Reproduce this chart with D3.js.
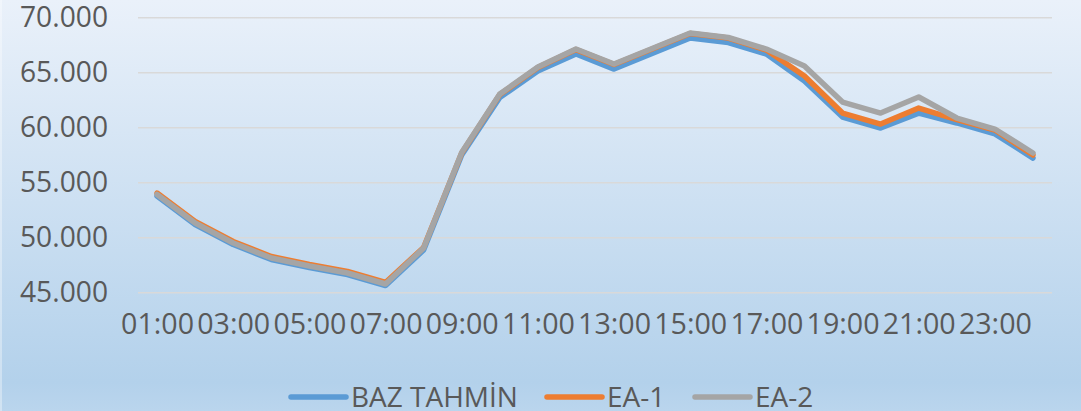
<!DOCTYPE html>
<html>
<head>
<meta charset="utf-8">
<script src="https://cdn.jsdelivr.net/npm/d3@7"></script>
<style>
    html, body { margin: 0; padding: 0; background: #ffffff; }
    #chart { width: 1081px; height: 411px; overflow: hidden; }
</style>
</head>
<body>
<div id="chart"></div>
<script>
    "use strict";
    //chart data
    var hours = ["01:00","02:00","03:00","04:00","05:00","06:00","07:00","08:00","09:00","10:00","11:00","12:00",
                 "13:00","14:00","15:00","16:00","17:00","18:00","19:00","20:00","21:00","22:00","23:00","24:00"];
    var bazTahmin = [53790, 51200, 49380, 48020, 47290, 46650, 45650, 48880, 57520, 62740, 65150, 66700,
                     65330, 66740, 68150, 67740, 66700, 64240, 60970, 59970, 61330, 60430, 59430, 57240];
    var ea1 = [54060, 51470, 49650, 48290, 47560, 46930, 45930, 49110, 57700, 63010, 65470, 67100,
               65740, 67150, 68560, 68150, 67060, 64700, 61330, 60330, 61790, 60740, 59790, 57520];
    var ea2 = [53930, 51340, 49520, 48150, 47430, 46790, 45790, 49060, 57740, 63060, 65520, 67150,
               65790, 67200, 68610, 68200, 67150, 65610, 62330, 61330, 62790, 60880, 59880, 57700];
    var yTicks = [45000, 50000, 55000, 60000, 65000, 70000];
    var seriesNames = ["BAZ TAHMİN", "EA-1", "EA-2"];

    var width = 1081;
    var height = 411;
    var plotLeft = 138;
    var plotRight = 1052;
    var plotTop = 17.7;
    var plotBottom = 292.7;
    var lineWidth = 5.5;
    var textColor = "#595959";
    var fontFamily = "'Open Sans', sans-serif";
    var colors = ["#5b9bd5", "#ed7d31", "#a5a5a5"];

    var trLocale = d3.formatLocale({decimal: ",", thousands: ".", grouping: [3], currency: ["", " ₺"]});
    var fmt = trLocale.format(",.0f");

    var svg = d3.select("#chart")
        .append("svg")
        .attr("xmlns", "http://www.w3.org/2000/svg")
        .attr("width", width)
        .attr("height", height);

    //background gradient
    var grad = svg.append("defs").append("linearGradient")
        .attr("id", "bg")
        .attr("x1", 0).attr("y1", 0).attr("x2", 0).attr("y2", 1);
    grad.append("stop").attr("offset", "0%").attr("stop-color", "#eaf1fa");
    grad.append("stop").attr("offset", "93%").attr("stop-color", "#b3d1eb");
    grad.append("stop").attr("offset", "100%").attr("stop-color", "#bad5ed");

    svg.append("rect")
        .attr("width", width)
        .attr("height", height)
        .attr("fill", "url(#bg)");
    svg.append("rect")
        .attr("x", 0).attr("y", 0)
        .attr("width", 2).attr("height", height)
        .attr("fill", "#ffffff").attr("opacity", 0.35);

    var x = d3.scalePoint()
        .domain(hours)
        .range([plotLeft, plotRight])
        .padding(0.5);

    var y = d3.scaleLinear()
        .domain([45000, 70000])
        .range([plotBottom, plotTop]);

    //gridlines
    svg.append("g")
        .selectAll("line")
        .data(yTicks)
        .enter()
        .append("line")
        .attr("x1", plotLeft)
        .attr("x2", plotRight)
        .attr("y1", function(d){ return y(d); })
        .attr("y2", function(d){ return y(d); })
        .attr("stroke", "#d9d9d9")
        .attr("stroke-width", 1.4);

    //y axis labels
    var yAxis = d3.axisLeft(y)
        .tickValues(yTicks)
        .tickFormat(fmt)
        .tickSize(0)
        .tickPadding(30);
    var gy = svg.append("g")
        .attr("transform", "translate(" + plotLeft + ",0)")
        .call(yAxis);
    gy.select(".domain").remove();
    gy.selectAll("text")
        .attr("fill", textColor)
        .attr("font-family", fontFamily)
        .attr("font-size", "29px")
        .attr("textLength", 88)
        .attr("lengthAdjust", "spacingAndGlyphs");

    //x axis labels, every second hour (narrow, nearly touching like the original)
    var xAxis = d3.axisBottom(x)
        .tickValues(hours.filter(function(d, i){ return i % 2 === 0; }))
        .tickSize(0)
        .tickPadding(20);
    var gx = svg.append("g")
        .attr("transform", "translate(0," + plotBottom + ")")
        .call(xAxis);
    gx.select(".domain").remove();
    gx.selectAll("text")
        .attr("fill", textColor)
        .attr("font-family", fontFamily)
        .attr("font-size", "30px")
        .attr("textLength", 73)
        .attr("lengthAdjust", "spacingAndGlyphs");

    //lines
    var line = d3.line()
        .x(function(d, i){ return x(hours[i]); })
        .y(function(d){ return y(d); });

    var allSeries = [bazTahmin, ea1, ea2];
    svg.append("g")
        .selectAll("path")
        .data(allSeries)
        .enter()
        .append("path")
        .attr("d", function(d){ return line(d); })
        .attr("fill", "none")
        .attr("stroke", function(d, i){ return colors[i]; })
        .attr("stroke-width", lineWidth)
        .attr("stroke-linejoin", "round")
        .attr("stroke-linecap", "round");

    //legend
    var legendItems = [
        {name: seriesNames[0], x: 291},
        {name: seriesNames[1], x: 547},
        {name: seriesNames[2], x: 695}
    ];
    var legend = svg.append("g").attr("class", "legend");
    var items = legend.selectAll("g")
        .data(legendItems)
        .enter()
        .append("g")
        .attr("transform", function(d){ return "translate(" + d.x + ",397)"; });
    items.append("line")
        .attr("x1", 0).attr("x2", 55)
        .attr("y1", 0).attr("y2", 0)
        .attr("stroke", function(d, i){ return colors[i]; })
        .attr("stroke-width", lineWidth)
        .attr("stroke-linecap", "round");
    items.append("text")
        .attr("x", 60)
        .attr("y", 10)
        .attr("fill", textColor)
        .attr("font-family", fontFamily)
        .attr("font-size", "28px")
        .text(function(d){ return d.name; });
</script>
</body>
</html>
